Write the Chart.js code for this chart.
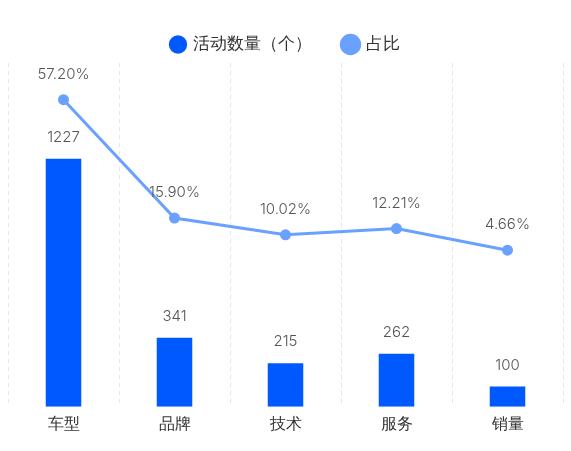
<!DOCTYPE html>
<html><head><meta charset="utf-8">
<script src="https://cdn.jsdelivr.net/npm/chart.js@4"></script>
<style>body{margin:0;background:#fff}#w{width:571px;height:451px}</style>
</head><body><div id="w"><canvas id="c"></canvas></div>
<script>
const categories=['车型','品牌','技术','服务','销量'];
const counts=[1227,341,215,262,100];
const shares=[57.20,15.90,10.02,12.21,4.66];
const labelsPlugin={id:'lbl',afterDatasetsDraw(ch){
 const ctx=ch.ctx;ctx.save();ctx.font='300 15px Inter, "Noto Sans", sans-serif';ctx.fillStyle='#555';ctx.textAlign='center';ctx.textBaseline='bottom';
 ch.getDatasetMeta(0).data.forEach((e,i)=>ctx.fillText(counts[i],e.x,e.y-14));
 ch.getDatasetMeta(1).data.forEach((e,i)=>ctx.fillText(shares[i].toFixed(2)+'%',e.x,e.y-18));
 ctx.restore();}};
new Chart(document.getElementById('c'),{
 data:{labels:categories,datasets:[
  {type:'bar',label:'活动数量（个）',data:counts,backgroundColor:'#0059ff',yAxisID:'y',barPercentage:0.32,categoryPercentage:1,order:2},
  {type:'line',label:'占比',data:shares,borderColor:'#6aa1ff',backgroundColor:'#6aa1ff',borderWidth:3,pointRadius:4,pointHoverRadius:4,yAxisID:'y2',order:1}]},
 options:{responsive:true,maintainAspectRatio:false,animation:false,
  layout:{padding:{left:8,right:8,top:4,bottom:9}},
  plugins:{legend:{labels:{sort:(a,b)=>a.datasetIndex-b.datasetIndex,usePointStyle:true,pointStyle:'circle',boxWidth:13,boxHeight:13,padding:32,font:{size:17,family:'"Noto Sans", sans-serif'},color:'#333'}},tooltip:{enabled:false}},
  scales:{
   x:{grid:{display:true,offset:true,color:'#e6e6e6',drawTicks:false},border:{display:false,dash:[4,4]},ticks:{color:'#333',font:{size:16,family:'"Noto Sans", sans-serif'},padding:8}},
   y:{min:0,max:1700,display:false},
   y2:{min:-50,max:70,display:false}
  }},
 plugins:[labelsPlugin]});
</script></body></html>
